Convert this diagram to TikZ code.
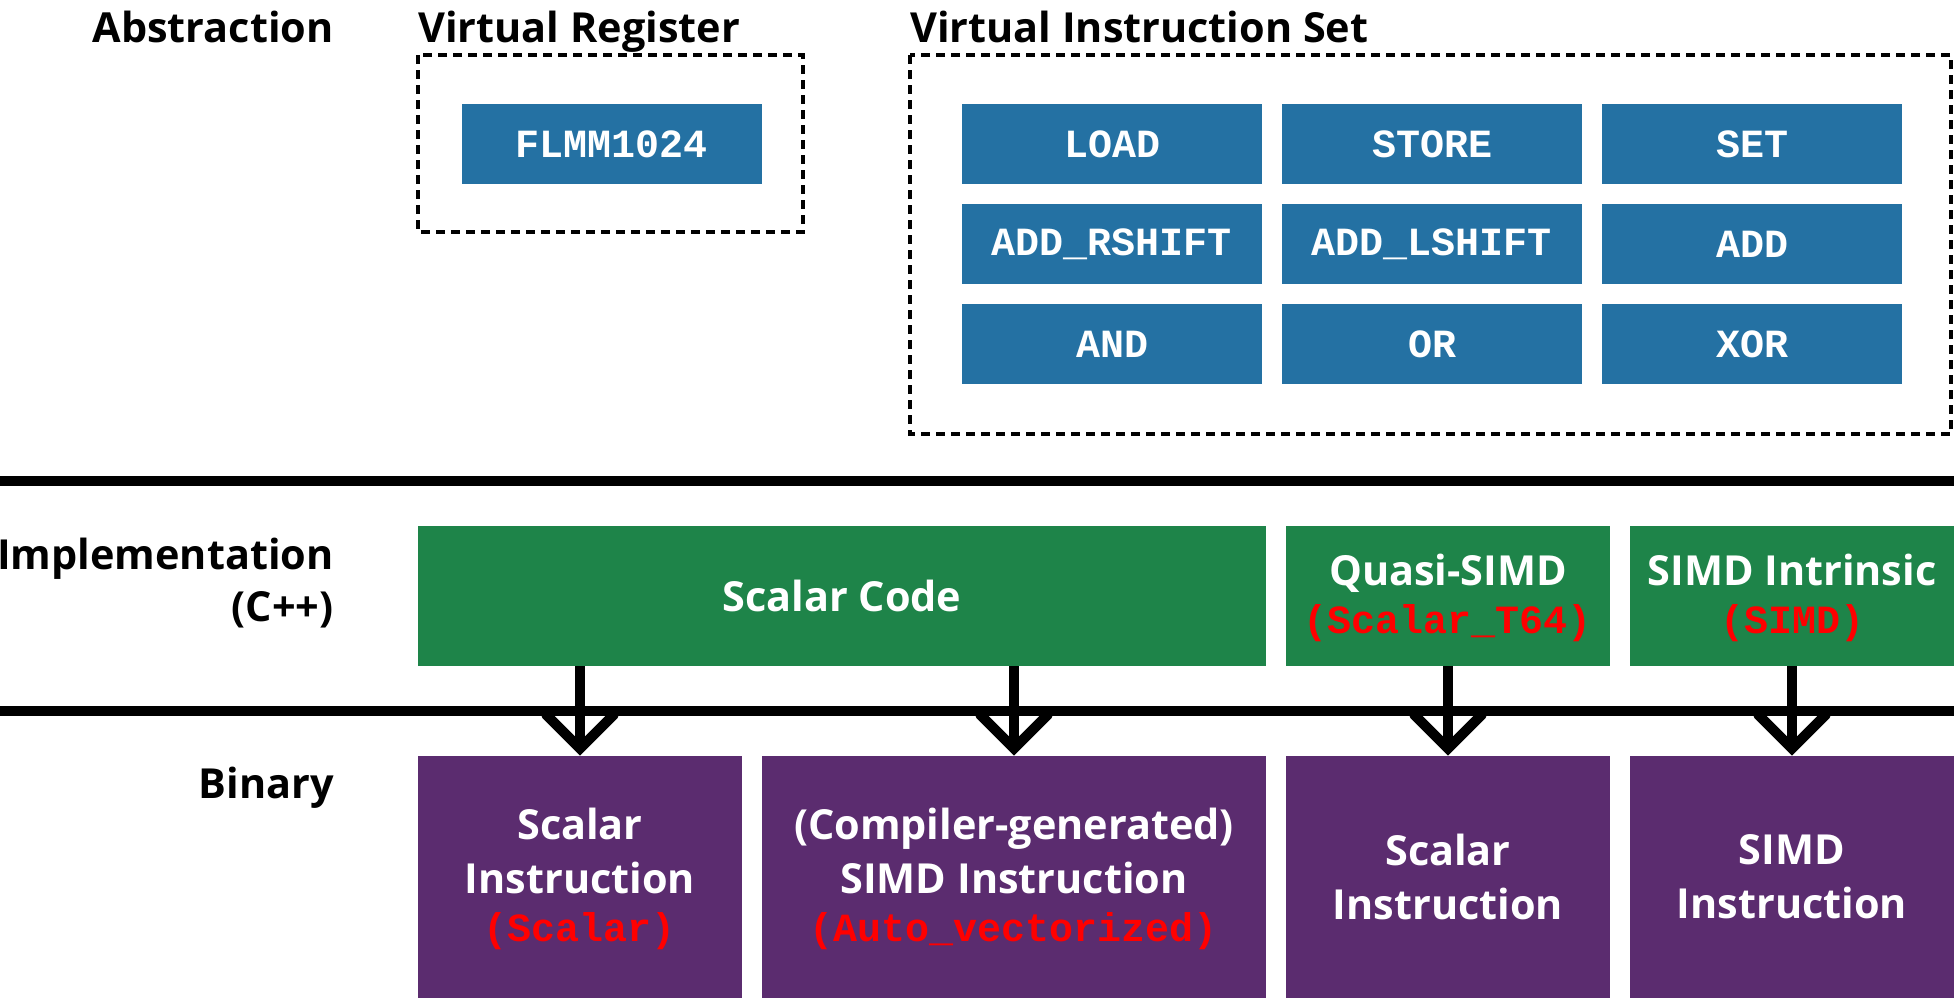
\documentclass[tikz,border=0pt]{standalone}
\usepackage{fontspec}
\setmainfont{Open Sans}
\setmonofont{Liberation Mono}
\usetikzlibrary{arrows.meta}

\definecolor{isablue}{HTML}{2471A3}
\definecolor{implgreen}{HTML}{1E8449}
\definecolor{binpurple}{HTML}{5B2C6F}
\definecolor{tagred}{HTML}{FF0000}

\newcommand{\redtt}[1]{{\ttfamily\fontsize{20}{24}\selectfont\color{tagred}#1}}

\begin{document}
\begin{tikzpicture}[x=0.5pt, y=-0.5pt,
  font=\bfseries\fontsize{20.7}{27}\selectfont,
  level/.style={anchor=base east, inner sep=0pt},
  heading/.style={anchor=base west, inner sep=0pt},
  frame/.style={draw, line width=2pt, dash pattern=on 4.5pt off 3pt},
  instr/.style={fill=isablue, text=white, font=\ttfamily\bfseries\fontsize{20}{24}\selectfont,
    minimum width=150pt, minimum height=40pt, inner sep=0pt},
  impl/.style={fill=implgreen, text=white, align=center, minimum height=70pt, inner sep=0pt},
  bin/.style={fill=binpurple, text=white, align=center, minimum width=162pt, minimum height=121pt, inner sep=0pt},
  sep/.style={line width=5pt},
  lower/.style={line width=5pt, -{Straight Barb[length=17pt, width=34pt, line cap=round]}}]
 \useasboundingbox (0,0) rectangle (1954,998);

 % layer names
 \node[level] (abs)   at (334, 42)  {Abstraction};
 \node[level] (impl)  at (334, 569) {Implementation};
 \node[level] (cpp)   at (334, 621) {(C++)};
 \node[level] (binary) at (334, 798) {Binary};

 % abstraction layer
 \node[heading] (vreglabel) at (418, 42) {Virtual Register};
 \node[heading] (vislabel)  at (910, 42) {Virtual Instruction Set};
 \draw[frame] (418, 55) rectangle (803, 232);
 \draw[frame] (910, 55) rectangle (1951, 434);

 \node[instr] (flmm)   at (612, 144)  {FLMM1024};
 \node[instr] (load)   at (1112, 144) {LOAD};
 \node[instr] (store)  at (1432, 144) {STORE};
 \node[instr] (set)    at (1752, 144) {SET};
 \node[instr] (addr)   at (1112, 244) {ADD\_RSHIFT};
 \node[instr] (addl)   at (1432, 244) {ADD\_LSHIFT};
 \node[instr] (add)    at (1752, 244) {ADD};
 \node[instr] (and)    at (1112, 344) {AND};
 \node[instr] (or)     at (1432, 344) {OR};
 \node[instr] (xor)    at (1752, 344) {XOR};

 % separators
 \draw[sep] (0, 481) -- (1954, 481);
 \draw[sep] (0, 711) -- (1954, 711);

 % implementation layer
 \node[impl, minimum width=424pt] (scalar) at (842, 596)  {Scalar Code};
 \node[impl, minimum width=162pt] (quasi)  at (1448, 596) {\rule{0pt}{18pt}Quasi-SIMD\\[-3pt]\redtt{(Scalar\_T64)}};
 \node[impl, minimum width=162pt] (intrin) at (1792, 596) {\rule{0pt}{18pt}SIMD Intrinsic\\[-3pt]\redtt{(SIMD)}};

 % binary layer
 \node[bin] (bscalar) at (580, 877) {\rule{0pt}{18pt}Scalar\\Instruction\\[-3pt]\redtt{(Scalar)}};
 \node[bin, minimum width=252pt] (bauto) at (1014, 877) {\rule{0pt}{18pt}(Compiler-generated)\\SIMD Instruction\\[-3pt]\redtt{(Auto\_vectorized)}};
 \node[bin] (bquasi)  at (1448, 877) {Scalar\\Instruction};
 \node[bin] (bsimd)   at (1792, 877) {SIMD\\Instruction};

 \draw[lower] (scalar.south -| bscalar.north) -- (bscalar.north);
 \draw[lower] (scalar.south -| bauto.north) -- (bauto.north);
 \draw[lower] (quasi) -- (bquasi);
 \draw[lower] (intrin) -- (bsimd);
\end{tikzpicture}
\end{document}
